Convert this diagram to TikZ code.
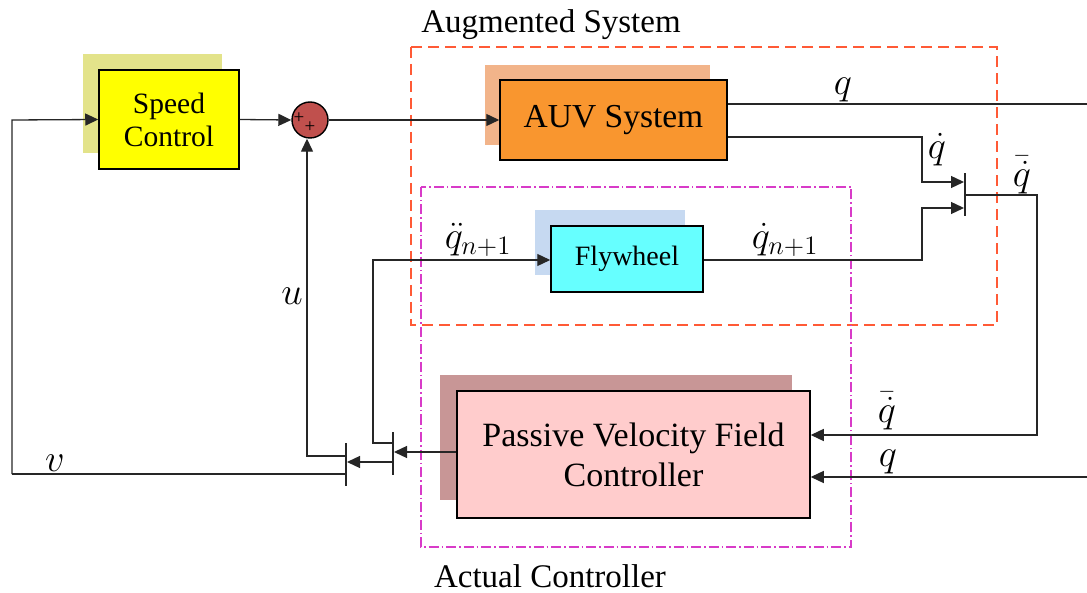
\documentclass[tikz,border=0pt]{standalone}
\usepackage{graphicx}
\usepackage{fontspec}
\setmainfont{Liberation Serif}
\usetikzlibrary{arrows.meta,calc}
\definecolor{scyl}{HTML}{FFFF00}
\definecolor{scsh}{HTML}{E3E38A}
\definecolor{auvc}{HTML}{F9962F}
\definecolor{auvsh}{HTML}{F2B48A}
\definecolor{flyc}{HTML}{66FFFF}
\definecolor{flysh}{HTML}{C6D9F1}
\definecolor{pvc}{HTML}{FFCCCC}
\definecolor{pvsh}{HTML}{C89696}
\definecolor{sumc}{HTML}{C0504D}
\definecolor{augc}{HTML}{FF5A36}
\definecolor{actc}{HTML}{D83BC8}
\newcommand{\mylblm}[1]{\scalebox{1.85}{$#1$}}
\begin{document}
\begin{tikzpicture}[x=1pt,y=-1pt,
  blk/.style={draw=black, line width=1.5pt, align=center, inner sep=0pt},
  conn/.style={draw=black!85, line width=1.3pt},
  arr/.style={conn, -{Triangle[length=13pt,width=12pt]}},
  bar/.style={fill=black!85, inner sep=0pt, minimum width=1.8pt},
  lbl/.style={font=\fontsize{20}{22}\selectfont, inner sep=0pt},
  ttl/.style={font=\fontsize{33}{36}\selectfont, inner sep=0pt}
]
\useasboundingbox (0,0) rectangle (1087,593);

% group boxes
\draw[augc, line width=1.5pt, dash pattern=on 11pt off 6pt] (411,47) rectangle (997,325);
\draw[actc, line width=1.4pt, dash pattern=on 10pt off 3pt on 1.5pt off 3pt] (421,187) rectangle (851,547);
\node[ttl] (augl) at (551,25) {Augmented System};
\node[ttl] (actl) at (550,576) {Actual Controller};

% shadows
\fill[scsh] (83,54) rectangle (222,153);
\fill[auvsh] (485,65) rectangle (710,145);
\fill[flysh] (535,210) rectangle (685,275);
\fill[pvsh] (440,375) rectangle (792,500);

% blocks
\node[blk, fill=scyl, minimum width=140pt, minimum height=99pt, font=\fontsize{29.5}{33}\selectfont] (sc) at (169,119.5) {Speed\\Control};
\node[blk, fill=auvc, minimum width=227pt, minimum height=80pt, font=\fontsize{33.5}{36}\selectfont] (auv) at (613.5,120) {AUV System};
\node[blk, fill=flyc, minimum width=152pt, minimum height=66pt, font=\fontsize{28}{30}\selectfont] (fly) at (627,259) {Flywheel};
\node[blk, fill=pvc, minimum width=353pt, minimum height=127pt, font=\fontsize{34}{40}\selectfont] (pv) at (633.5,454.5) {Passive Velocity Field\\Controller};

% sum junction
\node[circle, draw=black, line width=1.4pt, fill=sumc, minimum size=36pt, inner sep=0pt] (sum) at (310,120) {};
\node[font=\fontsize{19}{19}\selectfont, inner sep=0pt] (p1) at (299,118) {+};
\node[font=\fontsize{19}{19}\selectfont, inner sep=0pt] (p2) at (310,127) {+};

% mux / demux bars
\node[bar, minimum height=43pt] (m1) at (965,195) {};
\node[bar, minimum height=43pt] (m2) at (393,453.5) {};
\node[bar, minimum height=43pt] (m3) at (346,464.5) {};

% coordinates
\coordinate (qout) at (auv.east |- 0,104);
\coordinate (qdout) at (auv.east |- 0,137);
\coordinate (qright) at (1087,104);
\coordinate (c1) at (922,137);
\coordinate (c1b) at (922,182);
\coordinate (m1a) at (964,182);
\coordinate (c2) at (922,260);
\coordinate (c2b) at (922,208);
\coordinate (m1b) at (964,208);
\coordinate (m1o) at (965,195);
\coordinate (c3) at (1037,195);
\coordinate (c3b) at (1037,435);
\coordinate (pvin1) at (pv.east |- 0,435);
\coordinate (qin) at (1087,477);
\coordinate (pvin2) at (pv.east |- 0,477);
\coordinate (pvout) at (pv.west |- 0,452);
\coordinate (m2in) at (394,452);
\coordinate (m2a) at (393,443);
\coordinate (c4) at (373,443);
\coordinate (c4b) at (373,260);
\coordinate (m2b) at (393,462);
\coordinate (m3in) at (347,462);
\coordinate (m3a) at (346,456);
\coordinate (c5) at (307,456);
\coordinate (m3b) at (346,474);
\coordinate (c6) at (12,474);
\coordinate (c6b) at (12,120);

% connectors
\draw[arr] (c6) -- (c6b) -- (sc.west);
\draw[arr] (sc.east) -- (sum.west);
\draw[arr] (sum.east) -- (auv.west);
\draw[conn] (qout) -- (qright);
\draw[arr] (qdout) -- (c1) -- (c1b) -- (m1a);
\draw[arr] (fly.east |- c2) -- (c2) -- (c2b) -- (m1b);
\draw[arr] (m1o) -- (c3) -- (c3b) -- (pvin1);
\draw[arr] (qin) -- (pvin2);
\draw[arr] (pvout) -- (m2in);
\draw[arr] (m2a) -- (c4) -- (c4b) -- (fly.west |- c4b);
\draw[arr] (m2b) -- (m3in);
\draw[arr] (m3a) -- (c5) -- (sum.south -| c5);
\draw[conn] (m3b) -- (c6);

% labels
\node[lbl] (lq1) at (843,90) {\mylblm{q}};
\node[lbl] (lqd1) at (937,150) {\mylblm{\dot q}};
\node[lbl] (lqb1) at (1022,175) {\mylblm{\bar{\dot q}}};
\node[lbl] (lqdd) at (478,240) {\mylblm{\ddot q_{n+1}}};
\node[lbl] (lqdn) at (785,240) {\mylblm{\dot q_{n+1}}};
\node[lbl] (lu) at (292,296) {\mylblm{u}};
\node[lbl] (lv) at (55,463) {\mylblm{v}};
\node[lbl] (lqb2) at (887,411) {\mylblm{\bar{\dot q}}};
\node[lbl] (lq2) at (888,462) {\mylblm{q}};
\end{tikzpicture}
\end{document}
